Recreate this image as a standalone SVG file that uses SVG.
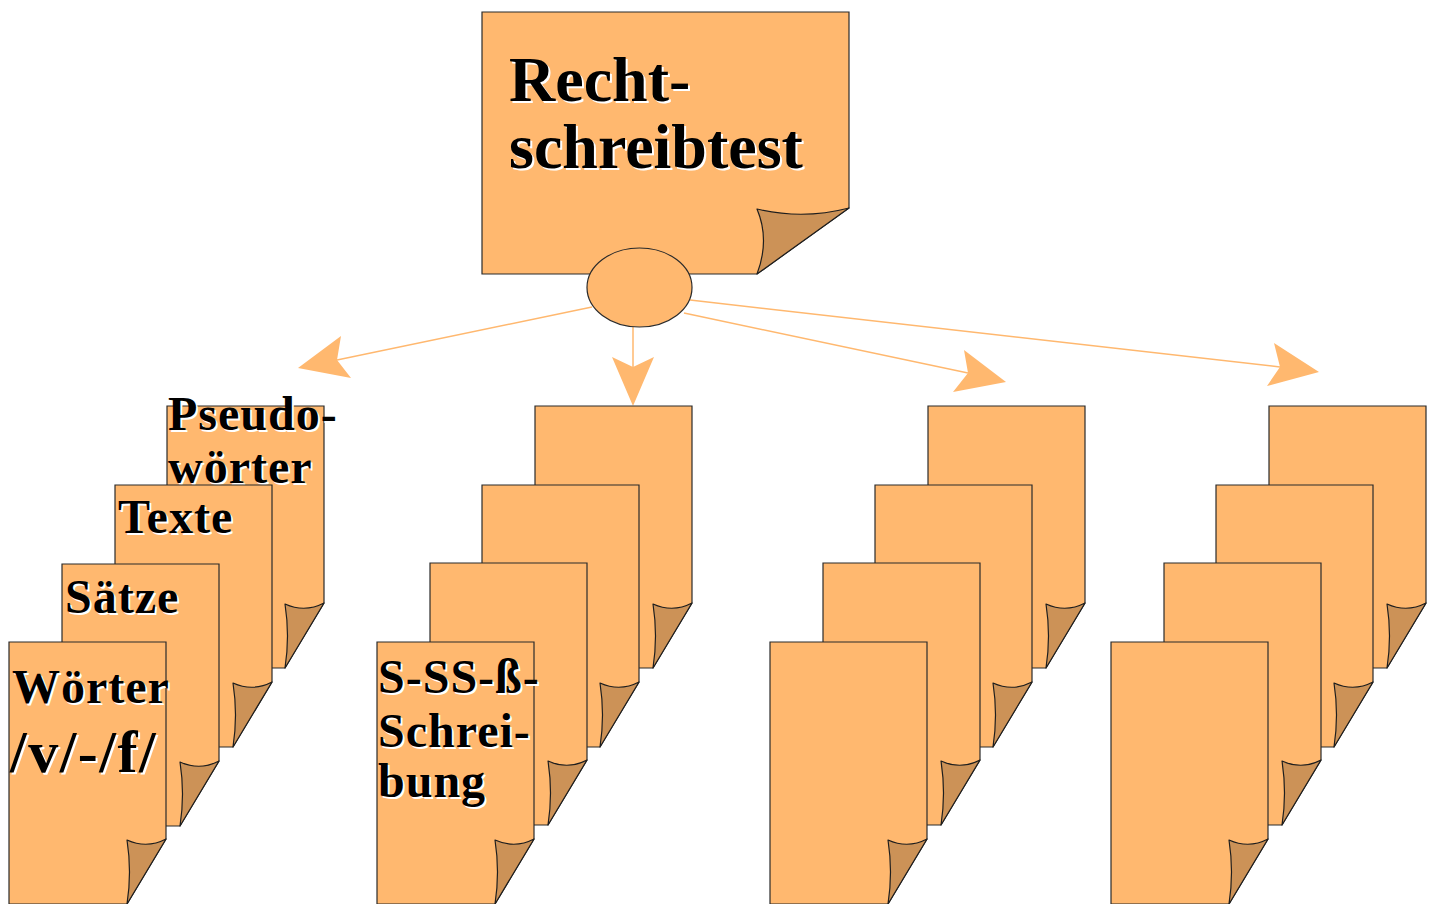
<svg xmlns="http://www.w3.org/2000/svg" xmlns:xlink="http://www.w3.org/1999/xlink" width="1434" height="904" viewBox="0 0 1434 904">
<style>
.body{fill:#FFB86F;stroke:#2b2b2b;stroke-width:1.2}
.fold{fill:#CC9257;stroke:#1e1e1e;stroke-width:1.2;stroke-linejoin:round}
.conn{stroke:#FFB86F;stroke-width:1.5;fill:none}
.head{fill:#FFB86F;stroke:none}
.t{font-family:"Liberation Serif","Times New Roman",serif;font-weight:bold;fill:#000}
.sh{fill:#fff}
.s48{font-size:48px;letter-spacing:1px}
.s60{font-size:60px;letter-spacing:1.5px}
.s64{font-size:64px;letter-spacing:0px}
</style>
<defs>
<g id="doc">
<path class="body" d="M0,0 H157 V197 L118,262 H0 Z"/>
<path class="fold" d="M118,198 Q138,207 157,197 L118,262 Q123,230 118,198 Z"/>
</g>
</defs>
<rect width="1434" height="904" fill="#fff"/>

<g id="connectors">
<line class="conn" x1="592" y1="307" x2="337" y2="360"/>
<polygon class="head" points="298,368 341,336 337,360 351,378"/>
<line class="conn" x1="633" y1="327" x2="633" y2="367"/>
<polygon class="head" points="633,406 612,357 633,367 654,357"/>
<line class="conn" x1="684" y1="313" x2="968" y2="373"/>
<polygon class="head" points="1006,382 964,350 968,373 953,392"/>
<line class="conn" x1="690" y1="300" x2="1280" y2="367"/>
<polygon class="head" points="1319,372 1274,343 1280,367 1267,386"/>
</g>

<g id="root">
<path class="body" d="M482,12 H849 V208 L757,274 H482 Z"/>
<path class="fold" d="M757,209 Q803,220 849,208 L757,274 Q770,240 757,209 Z"/>
<g class="t s64">
<text class="sh" x="511" y="103">Recht-</text>
<text class="sh" x="511" y="170">schreibtest</text>
<text x="509" y="101">Recht-</text>
<text x="509" y="168">schreibtest</text>
</g>
<ellipse class="body" cx="639.5" cy="287.5" rx="52.5" ry="39.5"/>
</g>

<g id="stack1">
<g id="s1d4" transform="translate(167,406)"><use xlink:href="#doc"/>
<g class="t s48"><text class="sh" x="3" y="26">Pseudo-</text><text class="sh" x="3" y="79">wörter</text><text x="1" y="24">Pseudo-</text><text x="1" y="77">wörter</text></g></g>
<g id="s1d3" transform="translate(115,485)"><use xlink:href="#doc"/>
<g class="t s48"><text class="sh" x="5" y="50">Texte</text><text x="3" y="48">Texte</text></g></g>
<g id="s1d2" transform="translate(62,564)"><use xlink:href="#doc"/>
<g class="t s48"><text class="sh" x="5" y="51">Sätze</text><text x="3" y="49">Sätze</text></g></g>
<g id="s1d1" transform="translate(9,642)"><use xlink:href="#doc"/>
<g class="t"><text class="sh s48" x="5" y="63">Wörter</text><text class="sh s60" x="3" y="132">/v/-/f/</text><text class="s48" x="3" y="61">Wörter</text><text class="s60" x="1" y="130">/v/-/f/</text></g></g>
</g>

<g id="stack2">
<g id="s2d4" transform="translate(535,406)"><use xlink:href="#doc"/></g>
<g id="s2d3" transform="translate(482,485)"><use xlink:href="#doc"/></g>
<g id="s2d2" transform="translate(430,563)"><use xlink:href="#doc"/></g>
<g id="s2d1" transform="translate(377,642)"><use xlink:href="#doc"/>
<g class="t s48"><text class="sh" x="3" y="53">S-SS-ß-</text><text class="sh" x="3" y="107">Schrei-</text><text class="sh" x="3" y="157">bung</text><text x="1" y="51">S-SS-ß-</text><text x="1" y="105">Schrei-</text><text x="1" y="155">bung</text></g></g>
</g>

<g id="stack3">
<g id="s3d4" transform="translate(928,406)"><use xlink:href="#doc"/></g>
<g id="s3d3" transform="translate(875,485)"><use xlink:href="#doc"/></g>
<g id="s3d2" transform="translate(823,563)"><use xlink:href="#doc"/></g>
<g id="s3d1" transform="translate(770,642)"><use xlink:href="#doc"/></g>
</g>

<g id="stack4">
<g id="s4d4" transform="translate(1269,406)"><use xlink:href="#doc"/></g>
<g id="s4d3" transform="translate(1216,485)"><use xlink:href="#doc"/></g>
<g id="s4d2" transform="translate(1164,563)"><use xlink:href="#doc"/></g>
<g id="s4d1" transform="translate(1111,642)"><use xlink:href="#doc"/></g>
</g>
</svg>
